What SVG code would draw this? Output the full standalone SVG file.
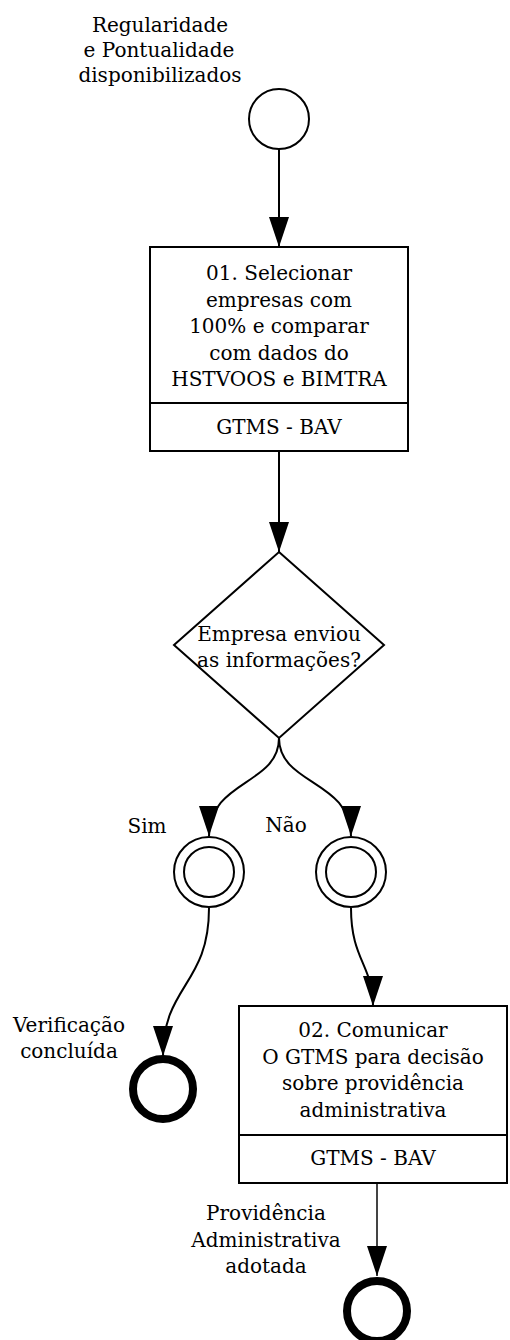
<svg xmlns="http://www.w3.org/2000/svg" width="510" height="1340" viewBox="0 0 510 1340">
<defs>
<marker id="arr" markerUnits="userSpaceOnUse" viewBox="0 0 30 20" refX="30" refY="10" markerWidth="30" markerHeight="20" orient="auto">
<path d="M0,0 L30,10 L0,20 z" fill="#000"/>
</marker>
</defs>
<style>
text{font-family:"DejaVu Serif","Liberation Serif",serif;font-size:20px;fill:#000;text-anchor:middle}
.shape{fill:#fff;stroke:#000;stroke-width:2}
.conn{fill:none;stroke:#000;stroke-width:2;marker-end:url(#arr)}
</style>
<rect width="510" height="1340" fill="#fff"/>
<g id="connectors">
<path class="conn" d="M279,149 L279,247"/>
<path class="conn" d="M279,451 L279,552"/>
<path class="conn" d="M279,738 C279,785 209,780 209,836"/>
<path class="conn" d="M279,738 C279,785 351,780 351,836"/>
<path class="conn" d="M209,908 C209,985 163,985 163,1056"/>
<path class="conn" d="M351,908 C351,960 373,965 373,1006"/>
<path class="conn" d="M377,1183 L377,1276" style="stroke:#444"/>
</g>
<g id="start">
<circle class="shape" cx="279" cy="119" r="30"/>
<text x="160" y="32">Regularidade</text>
<text x="159" y="57">e Pontualidade</text>
<text x="160" y="82">disponibilizados</text>
</g>
<g id="task1">
<rect class="shape" x="150" y="247" width="258" height="204"/>
<line x1="150" y1="403" x2="408" y2="403" stroke="#000" stroke-width="2"/>
<text x="279" y="280">01. Selecionar</text>
<text x="279" y="306.5">empresas com</text>
<text x="279" y="333">100% e comparar</text>
<text x="279" y="359.5">com dados do</text>
<text x="279" y="386">HSTVOOS e BIMTRA</text>
<text x="279" y="434">GTMS - BAV</text>
</g>
<g id="gateway">
<path class="shape" d="M279,552 L384,645 L279,738 L174,645 z"/>
<text x="279" y="641">Empresa enviou</text>
<text x="279" y="667">as informações?</text>
</g>
<g id="sim">
<circle class="shape" cx="209" cy="872" r="35"/>
<circle class="shape" cx="209" cy="872" r="25"/>
<text x="147" y="833">Sim</text>
</g>
<g id="nao">
<circle class="shape" cx="351" cy="872" r="35"/>
<circle class="shape" cx="351" cy="872" r="25"/>
<text x="286" y="832">Não</text>
</g>
<g id="end1">
<circle cx="163" cy="1089" r="30" fill="#fff" stroke="#000" stroke-width="8"/>
<text x="69" y="1032">Verificação</text>
<text x="69" y="1058">concluída</text>
</g>
<g id="task2">
<rect class="shape" x="239" y="1006" width="268" height="177"/>
<line x1="239" y1="1135" x2="507" y2="1135" stroke="#000" stroke-width="2"/>
<text x="373" y="1037">02. Comunicar</text>
<text x="373" y="1063.5">O GTMS para decisão</text>
<text x="373" y="1090">sobre providência</text>
<text x="373" y="1116.5">administrativa</text>
<text x="373" y="1165">GTMS - BAV</text>
</g>
<g id="end2">
<circle cx="377" cy="1311" r="30" fill="#fff" stroke="#000" stroke-width="8"/>
<text x="266" y="1220">Providência</text>
<text x="266" y="1247">Administrativa</text>
<text x="266" y="1273">adotada</text>
</g>
</svg>
